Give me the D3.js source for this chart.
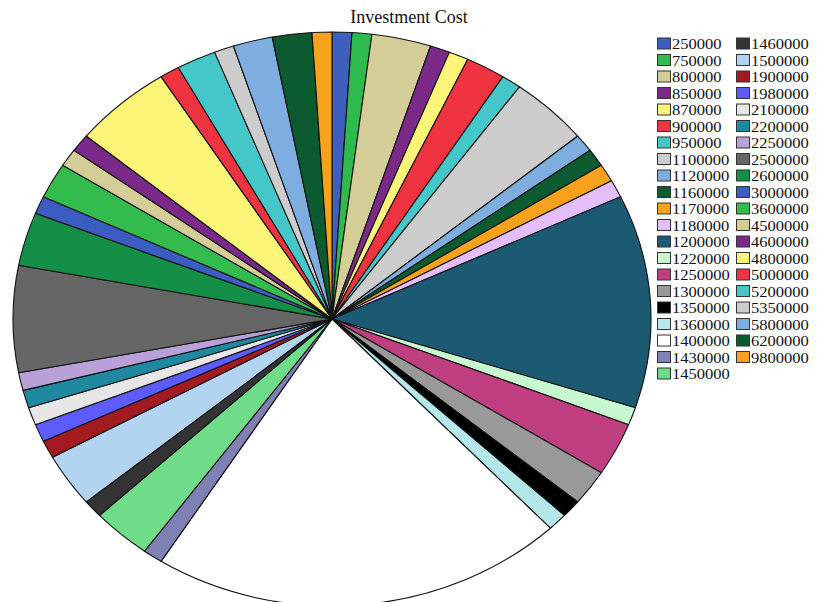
<!DOCTYPE html>
<html>
<head>
<meta charset="utf-8">
<script src="https://cdn.jsdelivr.net/npm/d3@7"></script>
<style>
  html, body { margin: 0; padding: 0; background: #fff; }
  svg { display: block; }
</style>
</head>
<body>
<svg id="chart" width="823" height="602"></svg>
<script>
// Investment cost categories (legend order = slice order, clockwise from 12 o'clock)
const costLabels = [
  "250000", "750000", "800000", "850000", "870000", "900000", "950000",
  "1100000", "1120000", "1160000", "1170000", "1180000", "1200000", "1220000",
  "1250000", "1300000", "1350000", "1360000", "1400000", "1430000", "1450000",
  "1460000", "1500000", "1900000", "1980000", "2100000", "2200000", "2250000",
  "2500000", "2600000", "3000000", "3600000", "4500000", "4600000", "4800000",
  "5000000", "5200000", "5350000", "5800000", "6200000", "9800000"
];

// Number of projects at each cost level
const projectCounts = [
  1, 1, 3, 1, 1, 2, 1,
  4, 1, 1, 1, 1, 12, 1,
  3, 2, 1, 1, 21, 1, 3,
  1, 3, 1, 1, 1, 1, 1,
  6, 3, 1, 2, 1, 1, 5,
  1, 2, 1, 2, 2, 1
];

const sliceColors = [
  "#3f5fbf", "#2fba4e", "#d5cd98", "#7b2a8a", "#fcf578", "#ef3340", "#45c6c9",
  "#cccccc", "#7eaddf", "#0c5a2f", "#f7a11c", "#e3befa", "#1b5a72", "#c7f8d0",
  "#bf3f80", "#999999", "#000000", "#b4e7ea", "#ffffff", "#7f80b3", "#6edc88",
  "#333333", "#b3d4f0", "#a31a20", "#5c5cff", "#e6e6e6", "#1f89a0", "#b9a0d9",
  "#666666", "#138f47", "#3b5cc0", "#33bb4d", "#d5cd98", "#7b2a8a", "#fcf578",
  "#ef3340", "#45c6c9", "#cccccc", "#7eaddf", "#0c5a2f", "#f7a11c"
];

const titleText = "Investment Cost";

const svg = d3.select("#chart");

// Elliptical pie: a unit pie scaled on x and y
const cx = 332, cy = 319, rx = 319, ry = 287, R = 100;

const pie = d3.pie().sort(null).value(d => d)
  .startAngle(0).endAngle(2 * Math.PI);
const arc = d3.arc().innerRadius(0).outerRadius(R);

const pieG = svg.append("g")
  .attr("transform", `translate(${cx},${cy}) scale(${rx / R},${ry / R})`);

pieG.selectAll("path")
  .data(pie(projectCounts))
  .join("path")
  .attr("d", arc)
  .attr("fill", (d, i) => sliceColors[i])
  .attr("stroke", "#111")
  .attr("stroke-width", 1.1)
  .attr("stroke-linejoin", "round")
  .attr("vector-effect", "non-scaling-stroke");

// Title
svg.append("text")
  .attr("x", 409)
  .attr("y", 23)
  .attr("text-anchor", "middle")
  .attr("font-family", "'Liberation Serif', 'Times New Roman', serif")
  .attr("font-size", 18)
  .attr("fill", "#111")
  .text(titleText);

// Legend: two columns
const rowsPerCol = 21;
const legendX = [657, 736];
const legendY0 = 44, rowStep = 16.5;

const legend = svg.append("g");
const items = legend.selectAll("g")
  .data(costLabels)
  .join("g")
  .attr("transform", (d, i) => {
    const col = Math.floor(i / rowsPerCol), row = i % rowsPerCol;
    return `translate(${legendX[col]},${legendY0 + row * rowStep})`;
  });

items.append("rect")
  .attr("x", 0.5).attr("y", -6)
  .attr("width", 13).attr("height", 11)
  .attr("fill", (d, i) => sliceColors[i])
  .attr("stroke", "#333")
  .attr("stroke-width", 1);

// Labels: slightly widened serif digits to fit the tight row spacing
items.append("text")
  .attr("transform", "translate(15,5) scale(1.14,1)")
  .attr("font-family", "'Liberation Serif', 'Times New Roman', serif")
  .attr("font-size", 14.5)
  .attr("fill", "#111")
  .text(d => d);
</script>
</body>
</html>
